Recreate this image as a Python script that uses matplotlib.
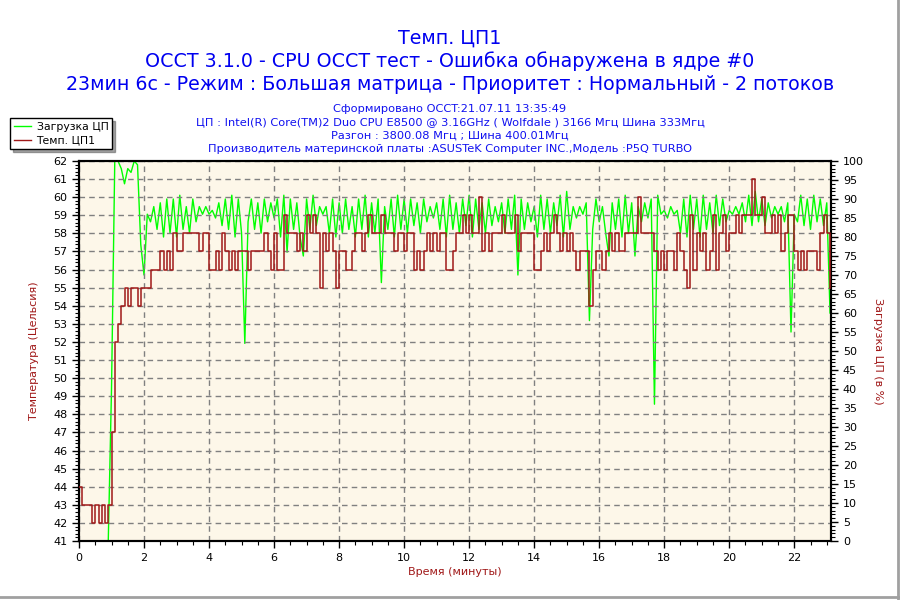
import numpy as np
import matplotlib.pyplot as plt
from matplotlib.ticker import MultipleLocator
from matplotlib.lines import Line2D

# время, мин (шаг 0.1)
minutes = np.round(np.arange(0, 23.15, 0.1), 1)

# Темп. ЦП1, °C
temp = [
    44, 43, 43, 43, 42, 43, 42, 43, 42, 43,
    47, 52, 53, 54, 55, 54, 55, 55, 54, 55,
    55, 55, 56, 56, 56, 57, 56, 57, 56, 58,
    57, 57, 58, 58, 58, 58, 58, 57, 58, 58,
    56, 56, 57, 56, 58, 57, 56, 57, 56, 57,
    57, 57, 56, 57, 57, 57, 57, 58, 57, 56,
    58, 56, 56, 59, 58, 58, 58, 57, 58, 57,
    59, 58, 59, 58, 55, 58, 57, 58, 57, 55,
    57, 57, 56, 56, 57, 58, 58, 57, 58, 59,
    58, 58, 58, 59, 58, 58, 58, 57, 58, 58,
    57, 58, 58, 56, 57, 56, 57, 58, 57, 58,
    57, 58, 58, 56, 56, 57, 58, 58, 59, 58,
    59, 58, 58, 60, 57, 58, 57, 58, 58, 58,
    59, 58, 58, 58, 59, 57, 58, 58, 58, 58,
    56, 56, 57, 58, 57, 58, 59, 58, 57, 58,
    57, 58, 57, 56, 57, 57, 57, 54, 56, 57,
    57, 56, 57, 58, 57, 58, 57, 57, 58, 58,
    58, 58, 60, 58, 58, 58, 58, 57, 56, 57,
    56, 57, 57, 56, 58, 57, 56, 55, 59, 56,
    58, 57, 58, 56, 57, 59, 56, 58, 59, 57,
    58, 58, 59, 58, 59, 59, 59, 61, 59, 59,
    60, 58, 58, 59, 58, 59, 57, 58, 59, 59,
    57, 56, 57, 56, 57, 57, 57, 56, 58, 59,
    58, 55,
]

# Загрузка ЦП, %
load = [
    0, 0, 0, 0, 0, 0, 0, 0, 0, 0,
    40, 100, 100, 98, 94, 98, 97, 100, 99, 78,
    70, 86, 84, 88, 82, 89, 80, 90, 81, 90,
    80, 91, 82, 88, 81, 90, 84, 88, 86, 88,
    86, 87, 85, 89, 83, 90, 82, 91, 80, 90,
    81, 52, 84, 90, 82, 89, 81, 90, 84, 89,
    85, 90, 80, 91, 76, 90, 82, 89, 80, 75,
    90, 82, 91, 83, 88, 86, 88, 81, 90, 80,
    89, 81, 90, 82, 88, 80, 90, 82, 91, 80,
    89, 81, 90, 68, 88, 82, 90, 80, 91, 82,
    90, 81, 90, 83, 89, 81, 90, 84, 88, 85,
    89, 82, 90, 80, 91, 82, 89, 81, 90, 83,
    91, 80, 90, 82, 89, 81, 90, 83, 88, 84,
    89, 81, 90, 82, 91, 70, 90, 82, 89, 84,
    88, 80, 91, 82, 90, 81, 89, 83, 91, 80,
    92, 82, 88, 85, 88, 86, 89, 58, 82, 90,
    84, 88, 81, 75, 89, 82, 90, 80, 91, 81,
    89, 75, 88, 84, 89, 85, 90, 36, 91, 86,
    87, 85, 88, 86, 87, 81, 90, 80, 91, 82,
    90, 80, 91, 82, 89, 81, 91, 83, 90, 84,
    87, 86, 88, 86, 89, 84, 91, 83, 92, 84,
    90, 83, 89, 85, 88, 86, 88, 84, 89, 55,
    86, 84, 91, 83, 90, 82, 91, 84, 90, 83,
    89, 60,
]

title_lines = [
    "Темп. ЦП1",
    "OCCT 3.1.0 - CPU OCCT тест - Ошибка обнаружена в ядре #0",
    "23мин 6с - Режим : Большая матрица - Приоритет : Нормальный - 2 потоков",
]
info_lines = [
    "Сформировано OCCT:21.07.11 13:35:49",
    "ЦП : Intel(R) Core(TM)2 Duo CPU E8500 @ 3.16GHz ( Wolfdale ) 3166 Мгц Шина 333Мгц",
    "Разгон : 3800.08 Мгц ; Шина 400.01Мгц",
    "Производитель материнской платы :ASUSTeK Computer INC.,Модель :P5Q TURBO",
]

red = '#A01818'
green = '#00FF00'
bg = '#FDF7E9'

plt.rcParams['font.family'] = ['DejaVu Sans']

fig = plt.figure(figsize=(9, 6), dpi=100)
fig.patch.set_facecolor('white')
ax = fig.add_axes([79 / 900, 1 - 541 / 600, 752 / 900, 380 / 600])

ax.plot(minutes, temp, color=red, lw=1.1, drawstyle='steps-post', zorder=3)
ax.set_xlim(0, 23.13)
ax.set_ylim(41, 62)
ax.xaxis.set_major_locator(MultipleLocator(2))
ax.xaxis.set_minor_locator(MultipleLocator(0.5))
ax.yaxis.set_major_locator(MultipleLocator(1))
ax.yaxis.set_minor_locator(MultipleLocator(0.2))
ax.grid(True, which='major', color='#808080', ls=(0, (4, 3)), lw=1)
ax.tick_params(which='major', length=5, width=1, labelsize=8, colors='black')
ax.tick_params(which='minor', length=3, width=0.8)
for s in ax.spines.values():
    s.set_linewidth(1.5)

ax2 = ax.twinx()
ax2.plot(minutes, load, color=green, lw=1.0, zorder=2)
ax2.set_ylim(0, 100)
ax2.yaxis.set_major_locator(MultipleLocator(5))
ax2.yaxis.set_minor_locator(MultipleLocator(1))
ax2.tick_params(which='major', length=5, width=1, labelsize=8)
ax2.tick_params(which='minor', length=3, width=0.8)
ax.set_zorder(ax2.get_zorder() + 1)
ax.set_facecolor('none')
ax2.patch.set_visible(True)
ax2.patch.set_facecolor(bg)
for s in ax2.spines.values():
    s.set_linewidth(1.5)

ax.set_xlabel("Время (минуты)", color=red, fontsize=8, labelpad=3)
ax.set_ylabel("Температура (Цельсия)", color=red, fontsize=8, labelpad=10)
ax2.set_ylabel("Загрузка ЦП (в %)", color=red, fontsize=8, rotation=270, labelpad=14)

ys = [38, 61, 84]
for txt, y in zip(title_lines, ys):
    fig.text(450 / 900, 1 - y / 600, txt, ha='center', va='center',
             fontsize=13.7, color='#0000F0')
for i, txt in enumerate(info_lines):
    fig.text(450 / 900, 1 - (109 + 13.5 * i) / 600, txt, ha='center', va='center',
             fontsize=8.2, color='#1010F0')

handles = [Line2D([], [], color=green, lw=1), Line2D([], [], color=red, lw=1)]
leg = fig.legend(handles, ["Загрузка ЦП", "Темп. ЦП1"], loc='upper left',
                 bbox_to_anchor=(10 / 900, 1 - 118 / 600), fontsize=7.8,
                 frameon=True, fancybox=False, shadow=True, edgecolor='black',
                 framealpha=1, handlelength=1.6, handletextpad=0.5,
                 borderpad=0.35, labelspacing=0.35, borderaxespad=0)
leg.get_frame().set_linewidth(1)

# серая рамка справа и снизу
fig.add_artist(Line2D([898 / 900, 898 / 900], [0, 1], color='#A0A0A0', lw=2))
fig.add_artist(Line2D([0, 1], [3 / 600, 3 / 600], color='#A0A0A0', lw=2))

fig.savefig('out.png', dpi=100)
